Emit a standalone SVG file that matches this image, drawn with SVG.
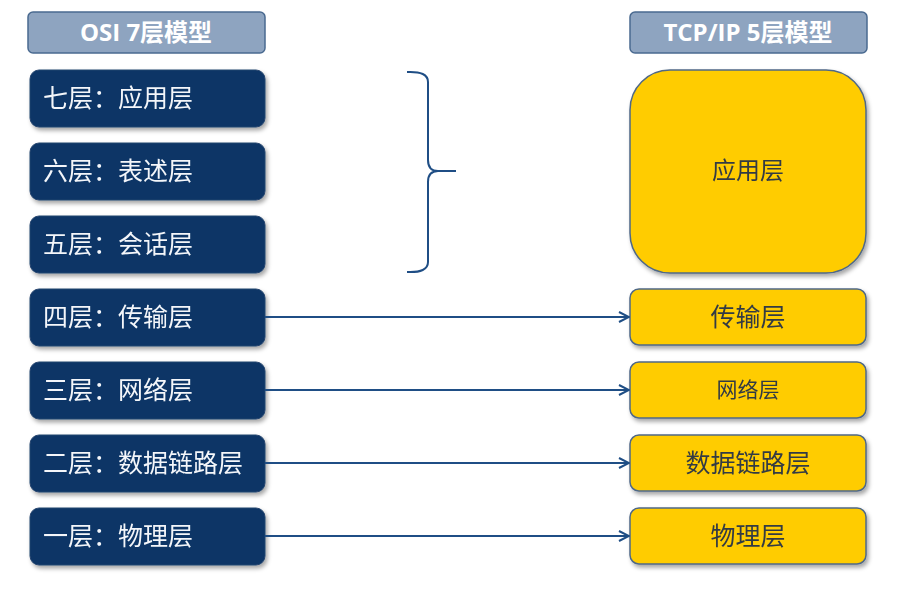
<svg xmlns="http://www.w3.org/2000/svg" width="912" height="600" viewBox="0 0 912 600">
<defs>
<filter id="sh" x="-10%" y="-10%" width="130%" height="140%">
<feDropShadow dx="2" dy="3" stdDeviation="2" flood-color="#000" flood-opacity="0.35"/>
</filter>
<marker id="arr" viewBox="0 0 12 12" refX="11" refY="6" markerWidth="12" markerHeight="12" markerUnits="userSpaceOnUse" orient="auto">
<path d="M1,1 L11,6 L1,11" fill="none" stroke="#1f4e85" stroke-width="2"/>
</marker>
<style>
.hdr{fill:#8ea4c0;stroke:#4a6a90;stroke-width:1.5}
.hdrt{font-family:"Open Sans","Noto Sans CJK SC",sans-serif;font-weight:bold;font-size:24px;fill:#fff;text-anchor:middle}
.osi{fill:#0b3566;stroke:#27466f;stroke-width:1}
.osit{font-family:"Noto Sans CJK SC",sans-serif;font-size:25px;fill:#f4f6fa}
.tcp{fill:#ffcc00;stroke:#4f6886;stroke-width:1.5}
.tcpt{font-family:"Noto Sans CJK SC",sans-serif;font-size:25px;fill:#333a44;text-anchor:middle}
.con{fill:none;stroke:#1f4e85;stroke-width:2}
</style>
</defs>
<rect width="912" height="600" fill="#fff"/>
<g id="osi-header"><rect class="hdr" x="28" y="12" width="237" height="41" rx="5"/><text class="hdrt" x="146" y="41">OSI 7层模型</text></g>
<g id="tcp-header"><rect class="hdr" x="630" y="12" width="237" height="41" rx="5"/><text class="hdrt" x="748" y="41">TCP/IP 5层模型</text></g>
<g id="osi7" filter="url(#sh)"><rect class="osi" x="30" y="70" width="235" height="57" rx="9"/><text class="osit" x="43" y="107">七层：应用层</text></g>
<g id="osi6" filter="url(#sh)"><rect class="osi" x="30" y="143" width="235" height="57" rx="9"/><text class="osit" x="43" y="180">六层：表述层</text></g>
<g id="osi5" filter="url(#sh)"><rect class="osi" x="30" y="216" width="235" height="57" rx="9"/><text class="osit" x="43" y="253">五层：会话层</text></g>
<g id="osi4" filter="url(#sh)"><rect class="osi" x="30" y="289" width="235" height="57" rx="9"/><text class="osit" x="43" y="326">四层：传输层</text></g>
<g id="osi3" filter="url(#sh)"><rect class="osi" x="30" y="362" width="235" height="57" rx="9"/><text class="osit" x="43" y="399">三层：网络层</text></g>
<g id="osi2" filter="url(#sh)"><rect class="osi" x="30" y="435" width="235" height="57" rx="9"/><text class="osit" x="43" y="472">二层：数据链路层</text></g>
<g id="osi1" filter="url(#sh)"><rect class="osi" x="30" y="508" width="235" height="57" rx="9"/><text class="osit" x="43" y="545">一层：物理层</text></g>
<g id="tcp-app" filter="url(#sh)"><rect class="tcp" x="630" y="70" width="236" height="203" rx="40"/><text class="tcpt" x="748" y="179" style="font-size:24px">应用层</text></g>
<g id="tcp-transport" filter="url(#sh)"><rect class="tcp" x="630" y="289" width="236" height="56" rx="9"/><text class="tcpt" x="748" y="326">传输层</text></g>
<g id="tcp-network" filter="url(#sh)"><rect class="tcp" x="630" y="362" width="236" height="56" rx="9"/><text class="tcpt" x="748" y="397" style="font-size:21px">网络层</text></g>
<g id="tcp-datalink" filter="url(#sh)"><rect class="tcp" x="630" y="435" width="236" height="56" rx="9"/><text class="tcpt" x="748" y="472">数据链路层</text></g>
<g id="tcp-physical" filter="url(#sh)"><rect class="tcp" x="630" y="508" width="236" height="56" rx="9"/><text class="tcpt" x="748" y="545">物理层</text></g>
<g id="connectors">
<path class="con" d="M407,72 Q428,71 428,82 L428,160 Q428,171 438,171 L456,171 M438,171 Q428,171 428,182 L428,262 Q428,273 407,272"/>
<line class="con" x1="265" y1="317" x2="629" y2="317" marker-end="url(#arr)"/>
<line class="con" x1="265" y1="390" x2="629" y2="390" marker-end="url(#arr)"/>
<line class="con" x1="265" y1="463" x2="629" y2="463" marker-end="url(#arr)"/>
<line class="con" x1="265" y1="536" x2="629" y2="536" marker-end="url(#arr)"/>
</g>
</svg>
